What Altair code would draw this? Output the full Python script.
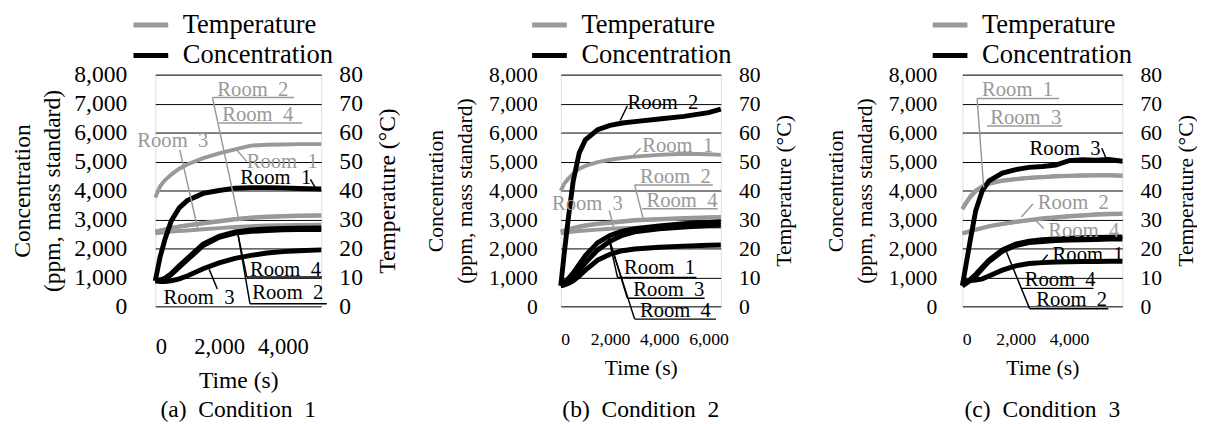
import altair as alt
import pandas as pd

FONT = "Liberation Serif"
GRAY = "#999999"
BLACK = "#000000"
SP = "\u00a0 "

# ---------------- Panel (a) Condition 1 ----------------
a_time = [0, 150, 300, 500, 750, 1000, 1500, 2000, 2500, 3000, 3500, 4000, 4500, 5200]
a_conc_r1 = [880, 1700, 2300, 2950, 3400, 3650, 3900, 4000, 4080, 4100, 4100, 4090, 4070, 4050]
a_conc_r2 = [880, 900, 950, 1100, 1350, 1600, 2100, 2380, 2530, 2590, 2620, 2640, 2650, 2650]
a_conc_r3 = [880, 860, 860, 880, 950, 1050, 1300, 1500, 1660, 1760, 1840, 1890, 1920, 1950]
a_conc_r4 = [880, 910, 970, 1130, 1400, 1650, 2150, 2420, 2570, 2640, 2670, 2690, 2700, 2710]
a_temp_r1 = [37.6, 41.5, 43.5, 45.5, 47.5, 49, 51.2, 52.8, 54.2, 55.5, 55.8, 55.9, 56, 56]
a_temp_r2 = [25.8, 26.2, 26.6, 27.1, 27.6, 28, 28.8, 29.5, 30.2, 30.7, 31, 31.2, 31.4, 31.5]
a_temp_r3 = [25.2, 25.4, 25.6, 25.8, 26, 26.2, 26.6, 27, 27.4, 27.7, 27.9, 28, 28.1, 28.2]
a_temp_r4 = [25.8, 26.1, 26.5, 27, 27.5, 27.9, 28.6, 29.3, 30, 30.5, 30.8, 31, 31.2, 31.3]

# ---------------- Panel (b) Condition 2 ----------------
b_time = [0, 150, 300, 500, 750, 1000, 1500, 2000, 2500, 3000, 4000, 5000, 6000, 6500]
b_conc_r1 = [710, 820, 950, 1150, 1450, 1750, 2200, 2450, 2600, 2680, 2780, 2850, 2900, 2920]
b_conc_r2 = [710, 1900, 3000, 4300, 5300, 5750, 6100, 6250, 6330, 6380, 6470, 6560, 6690, 6810]
b_conc_r3 = [710, 760, 850, 1000, 1250, 1500, 1950, 2250, 2450, 2570, 2680, 2740, 2790, 2800]
b_conc_r4 = [710, 740, 790, 880, 1050, 1250, 1600, 1800, 1920, 1980, 2040, 2080, 2110, 2120]
b_temp_r1 = [39.9, 42.5, 44, 45.8, 47.5, 48.5, 49.8, 50.6, 51.2, 51.7, 52.3, 52.7, 52.5, 52.3]
b_temp_r2 = [25.8, 26.2, 26.6, 27.1, 27.6, 28, 28.6, 29, 29.4, 29.8, 30.2, 30.5, 30.8, 30.9]
b_temp_r3 = [25.2, 25.4, 25.6, 25.8, 26, 26.2, 26.5, 26.8, 27, 27.1, 27.3, 27.4, 27.5, 27.5]
b_temp_r4 = [25.8, 26.1, 26.5, 27, 27.4, 27.8, 28.4, 28.8, 29.2, 29.6, 30, 30.3, 30.6, 30.7]

# ---------------- Panel (c) Condition 3 ----------------
c_time = [0, 150, 300, 500, 750, 1000, 1500, 2000, 2500, 3000, 3500, 4000, 4500, 5000, 5500, 6000]
c_conc_r1 = [710, 850, 890, 910, 950, 1050, 1250, 1400, 1480, 1510, 1530, 1540, 1550, 1550, 1560, 1560]
c_conc_r2 = [710, 800, 900, 1050, 1300, 1550, 1900, 2100, 2200, 2240, 2270, 2290, 2300, 2310, 2320, 2320]
c_conc_r3 = [710, 1500, 2300, 3300, 4000, 4330, 4600, 4720, 4800, 4830, 4880, 5030, 5060, 5050, 5070, 5010]
c_conc_r4 = [710, 820, 930, 1100, 1350, 1600, 1950, 2150, 2250, 2300, 2330, 2350, 2370, 2380, 2390, 2400]
c_temp_r1 = [33.7, 36, 38, 40, 41.5, 42.5, 43.5, 44, 44.4, 44.7, 45, 45.1, 45.3, 45.3, 45.4, 45.2]
c_temp_r2 = [25.2, 25.6, 26, 26.5, 27.1, 27.7, 28.5, 29.2, 29.8, 30.4, 30.8, 31.2, 31.5, 31.8, 32, 32.1]
c_temp_r3 = [33.5, 35.7, 37.7, 39.7, 41.3, 42.3, 43.3, 43.9, 44.3, 44.6, 44.8, 45, 45.1, 45.2, 45.2, 45]
c_temp_r4 = [25.2, 25.5, 25.9, 26.4, 27, 27.6, 28.4, 29.1, 29.7, 30.2, 30.6, 31, 31.3, 31.6, 31.8, 31.9]

# ---------------- Annotations (time, concentration coordinates) ----------------
a_lab_text = ["Room 2", "Room 4", "Room 3", "Room 1", "Room 1", "Room 4", "Room 2", "Room 3"]
a_lab_col = [GRAY, GRAY, GRAY, GRAY, BLACK, BLACK, BLACK, BLACK]
a_lab_x = [1945, 2098, -563, 2866, 2661, 2968, 3040, 256]
a_lab_y = [7266, 6384, 5514, 4780, 4215, 1051, 260, 90]
a_ul_x = [1791, 1996, 2866, 2968]
a_ul_x2 = [4350, 4606, 5220, 5374]
a_ul_y = [7209, 6328, 1017, 90]
a_ul_col = [GRAY, GRAY, BLACK, BLACK]
a_ld_x = [1791, 768, 2866, 4862, 2866, 2968, 1945]
a_ld_y = [7209, 5401, 5006, 4384, 1017, 90, 599]
a_ld_x2 = [2610, 1331, 2528, 5015, 2590, 2590, 1689]
a_ld_y2 = [3028, 2689, 5435, 4102, 2497, 2497, 1277]
a_ld_col = [GRAY, GRAY, GRAY, BLACK, BLACK, BLACK, BLACK]

b_lab_text = ["Room 2", "Room 1", "Room 2", "Room 4", "Room 3", "Room 1", "Room 3", "Room 4"]
b_lab_col = [BLACK, GRAY, GRAY, GRAY, GRAY, BLACK, BLACK, BLACK]
b_lab_x = [2707, 3307, 3213, 3480, -360, 2573, 2947, 3213]
b_lab_y = [6814, 5345, 4271, 3446, 3311, 1107, 373, -362]
b_ul_x = [3000, 3307, 2307, 2707, 3000]
b_ul_x2 = [6173, 6373, 5507, 5840, 6307]
b_ul_y = [4192, 3367, 994, 282, -441]
b_ul_col = [GRAY, GRAY, BLACK, BLACK, BLACK]
b_ld_x = [2707, 3240, 3000, 1973, 2307, 2707, 3000]
b_ld_y = [6927, 5458, 4192, 3311, 994, 282, -441]
b_ld_x2 = [2413, 2907, 3347, 2173, 1933, 1933, 1933]
b_ld_y2 = [6418, 5175, 3028, 2633, 2407, 2407, 2407]
b_ld_col = [BLACK, GRAY, GRAY, GRAY, BLACK, BLACK, BLACK]

c_lab_text = ["Room 1", "Room 3", "Room 3", "Room 2", "Room 4", "Room 1", "Room 4", "Room 2"]
c_lab_col = [GRAY, GRAY, BLACK, GRAY, GRAY, BLACK, BLACK, BLACK]
c_lab_x = [738, 1046, 2522, 2829, 3223, 3383, 2337, 2768]
c_lab_y = [7266, 6305, 5232, 3367, 2407, 1559, 712, 11]
c_ul_x = [554, 923, 2214, 2522]
c_ul_x2 = [3629, 3752, 4920, 5474]
c_ul_y = [7175, 6226, 621, -79]
c_ul_col = [GRAY, GRAY, BLACK, BLACK]
c_ld_x = [554, 5228, 2645, 3050, 3198, 2522]
c_ld_y = [7175, 5458, 3537, 2689, 1785, -79]
c_ld_x2 = [800, 5412, 2214, 2768, 2952, 1661]
c_ld_y2 = [4102, 5062, 3085, 2949, 1503, 1864]
c_ld_col = [GRAY, BLACK, GRAY, GRAY, BLACK, BLACK]

KIND_DOMAIN = ["Temperature", "Concentration"]


def long_df(times, series, kind):
    rows = []
    for name, vals in series.items():
        for t, v in zip(times, vals):
            rows.append({"t": t, "v": v, "room": name, "kind": kind})
    return pd.DataFrame(rows)


def panel(times, conc, temp, labs, uls, lds, xmax, xvals, width, fs, xfs,
          caption, legx, ylabpad, ytitlepad, xlabpad, xtitlepad, capoff):
    xscale = alt.Scale(domain=[0, xmax], nice=False, zero=False)
    yscale = alt.Scale(domain=[0, 8000], nice=False)
    xaxis = alt.Axis(values=xvals, format=",d", grid=False, ticks=False, tickSize=0,
                     domain=False, labelPadding=xlabpad, labelFont=FONT,
                     labelFontSize=xfs, labelColor="black", title="Time (s)",
                     titleFont=FONT, titleFontSize=fs, titleFontWeight="normal",
                     titleColor="black", titlePadding=xtitlepad)
    yaxis = alt.Axis(orient="left", values=list(range(0, 8001, 1000)), format=",d",
                     grid=True, gridColor="black", gridWidth=1, gridOpacity=1,
                     ticks=False, tickSize=0, domain=False, labelPadding=ylabpad,
                     labelFont=FONT, labelFontSize=fs, labelColor="black",
                     title=["Concentration", "(ppm, mass standard)"],
                     titleFont=FONT, titleFontSize=fs, titleFontWeight="normal",
                     titleColor="black", titleLineHeight=30, titlePadding=ytitlepad)
    legend = alt.Legend(orient="none", legendX=legx, legendY=-63, direction="vertical",
                        title=None, symbolType="stroke", symbolStrokeWidth=5,
                        symbolSize=1250, labelFont=FONT, labelFontSize=27,
                        labelOffset=12, rowPadding=3, clipHeight=25, labelColor="black")
    color = alt.Color("kind:N", scale=alt.Scale(domain=KIND_DOMAIN, range=[GRAY, BLACK]),
                      legend=legend)

    temp_df = long_df(times, temp, "Temperature")
    conc_df = long_df(times, conc, "Concentration")

    temp_layer = alt.Chart(temp_df).mark_line(strokeWidth=4).encode(
        x=alt.X("t:Q", scale=xscale, axis=xaxis),
        y=alt.Y("v:Q", scale=alt.Scale(domain=[0, 80], nice=False),
                axis=alt.Axis(orient="right", values=list(range(0, 81, 10)), grid=False,
                              ticks=False, tickSize=0, domain=False, labelPadding=18,
                              labelFont=FONT, labelFontSize=fs, labelColor="black",
                              title="Temperature (°C)", titleFont=FONT, titleFontSize=fs,
                              titleFontWeight="normal", titleColor="black",
                              titleAngle=270, titleBaseline="top", titlePadding=14)),
        color=color,
        detail="room:N",
    )

    conc_layer = alt.Chart(conc_df).mark_line(strokeWidth=5).encode(
        x=alt.X("t:Q", scale=xscale, axis=xaxis),
        y=alt.Y("v:Q", scale=yscale, axis=yaxis),
        color=color,
        detail="room:N",
    )

    lab_df = pd.DataFrame({"text": [s.replace(" ", SP) for s in labs[0]], "col": labs[1],
                           "t": labs[2], "v": labs[3]})
    ul_df = pd.DataFrame({"t": uls[0], "t2": uls[1], "v": uls[2], "col": uls[3]})
    ld_df = pd.DataFrame({"t": lds[0], "v": lds[1], "t2": lds[2], "v2": lds[3], "col": lds[4]})

    texts = alt.Chart(lab_df).mark_text(font=FONT, fontSize=21, align="left",
                                        baseline="alphabetic").encode(
        x=alt.X("t:Q", scale=xscale, axis=xaxis),
        y=alt.Y("v:Q", scale=yscale, axis=yaxis),
        text="text:N",
        fill=alt.Fill("col:N", scale=None),
    )
    unders = alt.Chart(ul_df).mark_rule(strokeWidth=1.5).encode(
        x=alt.X("t:Q", scale=xscale, axis=xaxis),
        x2="t2:Q",
        y=alt.Y("v:Q", scale=yscale, axis=yaxis),
        stroke=alt.Stroke("col:N", scale=None),
    )
    leaders = alt.Chart(ld_df).mark_rule(strokeWidth=1.5).encode(
        x=alt.X("t:Q", scale=xscale, axis=xaxis),
        x2="t2:Q",
        y=alt.Y("v:Q", scale=yscale, axis=yaxis),
        y2="v2:Q",
        stroke=alt.Stroke("col:N", scale=None),
    )

    conc_group = alt.layer(conc_layer, leaders, unders, texts)
    return alt.layer(temp_layer, conc_group).resolve_scale(y="independent").properties(
        width=width, height=236,
        title=alt.TitleParams(caption.replace("  ", SP), orient="bottom", font=FONT,
                              fontSize=24, fontWeight="normal", color="black",
                              anchor="middle", frame="group", offset=capoff),
    )


pa = panel(a_time,
           {"Room 1": a_conc_r1, "Room 2": a_conc_r2, "Room 3": a_conc_r3, "Room 4": a_conc_r4},
           {"Room 1": a_temp_r1, "Room 2": a_temp_r2, "Room 3": a_temp_r3, "Room 4": a_temp_r4},
           (a_lab_text, a_lab_col, a_lab_x, a_lab_y),
           (a_ul_x, a_ul_x2, a_ul_y, a_ul_col),
           (a_ld_x, a_ld_y, a_ld_x2, a_ld_y2, a_ld_col),
           5200, [0, 2000, 4000], 169, 24, 23, "(a)  Condition  1", -25, 29, 10, 30, 11, 6)

pb = panel(b_time,
           {"Room 1": b_conc_r1, "Room 2": b_conc_r2, "Room 3": b_conc_r3, "Room 4": b_conc_r4},
           {"Room 1": b_temp_r1, "Room 2": b_temp_r2, "Room 3": b_temp_r3, "Room 4": b_temp_r4},
           (b_lab_text, b_lab_col, b_lab_x, b_lab_y),
           (b_ul_x, b_ul_x2, b_ul_y, b_ul_col),
           (b_ld_x, b_ld_y, b_ld_x2, b_ld_y2, b_ld_col),
           6500, [0, 2000, 4000, 6000], 163, 22, 18, "(b)  Condition  2", -32, 24, 12, 25, 9, 21)

pc = panel(c_time,
           {"Room 1": c_conc_r1, "Room 2": c_conc_r2, "Room 3": c_conc_r3, "Room 4": c_conc_r4},
           {"Room 1": c_temp_r1, "Room 2": c_temp_r2, "Room 3": c_temp_r3, "Room 4": c_temp_r4},
           (c_lab_text, c_lab_col, c_lab_x, c_lab_y),
           (c_ul_x, c_ul_x2, c_ul_y, c_ul_col),
           (c_ld_x, c_ld_y, c_ld_x2, c_ld_y2, c_ld_col),
           6000, [0, 2000, 4000], 163, 22, 18, "(c)  Condition  3", -33, 26, 12, 25, 9, 21)

right_pair = alt.hconcat(pb, pc, spacing=29).resolve_scale(color="independent").resolve_legend(
    color="independent")

chart = alt.hconcat(pa, right_pair, spacing=24).resolve_scale(color="independent").resolve_legend(
    color="independent"
).properties(
    padding={"left": 2, "top": 0, "right": 0, "bottom": 0}
).configure_view(stroke="black", strokeWidth=1).configure(background="white")

chart.save("out.html", embed_options={"renderer": "svg", "actions": False})
